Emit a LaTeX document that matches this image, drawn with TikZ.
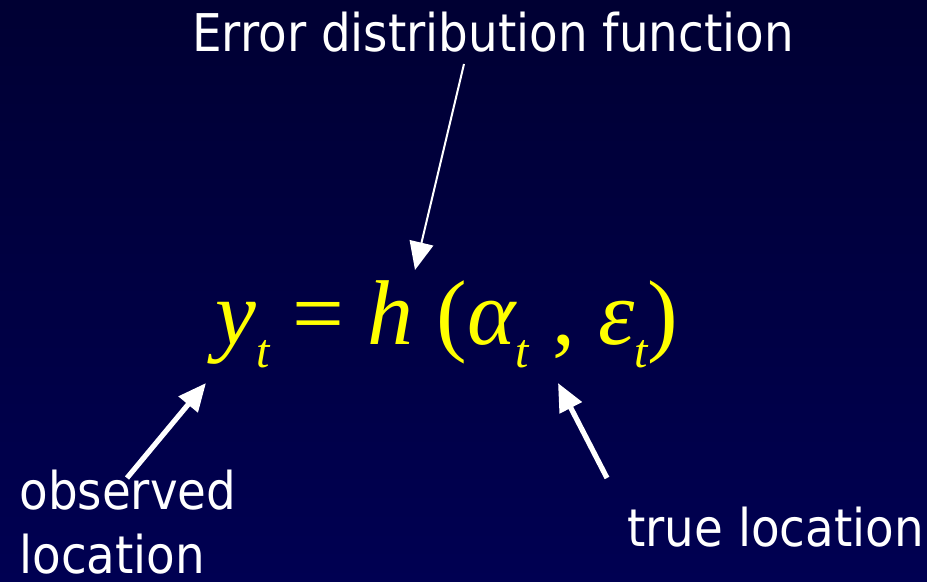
\documentclass[tikz,border=0pt]{standalone}
\usepackage{fontspec}
\usetikzlibrary{arrows.meta,positioning}
\newfontfamily\labelfont[FakeStretch=0.9]{DejaVu Sans}
\newfontfamily\eqfont{Liberation Serif}
% lowered subscript t
\newcommand{\subt}{\raisebox{-0.24em}{\fontsize{24}{24}\selectfont\itshape t}}

\begin{document}
\begin{tikzpicture}[
    x={(0.5pt,0)}, y={(0,-0.5pt)},
    >={Triangle[length=14pt,width=12pt]},
    labelText/.style={text=white, inner sep=0pt, font=\labelfont\fontsize{26}{32}\selectfont},
    thinArrow/.style={->, white, line width=1pt},
    thickArrow/.style={->, white, line width=2.6pt}
    ]
    
    % Colors
    \definecolor{bgTop}{HTML}{000033}
    \definecolor{bgBottom}{HTML}{000052}
    \definecolor{eqColor}{HTML}{FFFF00}
    
    % Background
    \shade[top color=bgTop, bottom color=bgBottom] (0,0) rectangle (927,582);
    \useasboundingbox (0,0) rectangle (927,582);
    
    % Labels
    \node[labelText, anchor=base] (errFn) at (493,52) {Error distribution function};
    \node[labelText, anchor=base west, align=left] (obsLoc) at (19,574) {observed\\location};
    \node[labelText, anchor=base west] (trueLoc) at (627,547) {true location};
    
    % Equation
    \node[eqColor, inner sep=0pt, anchor=base, font=\eqfont\fontsize{46}{46}\selectfont] (eq) at (447,345)
        {\itshape y\subt\ \upshape=\ \itshape h\upshape\ (\itshape α\subt\upshape\ ,\ \itshape ε\subt\upshape)};
    
    % Arrow ends
    \coordinate (hTip)    at (415,270);
    \coordinate (errTail) at (464,64);
    \coordinate (yTip)    at (206,383);
    \coordinate (obsTail) at (127,478);
    \coordinate (aTip)    at (558,383);
    \coordinate (trueTail) at (607,478);
    
    % Arrows
    \draw[thinArrow]  (errTail) -- (hTip);
    \draw[thickArrow] (obsTail) -- (yTip);
    \draw[thickArrow] (trueTail) -- (aTip);
\end{tikzpicture}
\end{document}
